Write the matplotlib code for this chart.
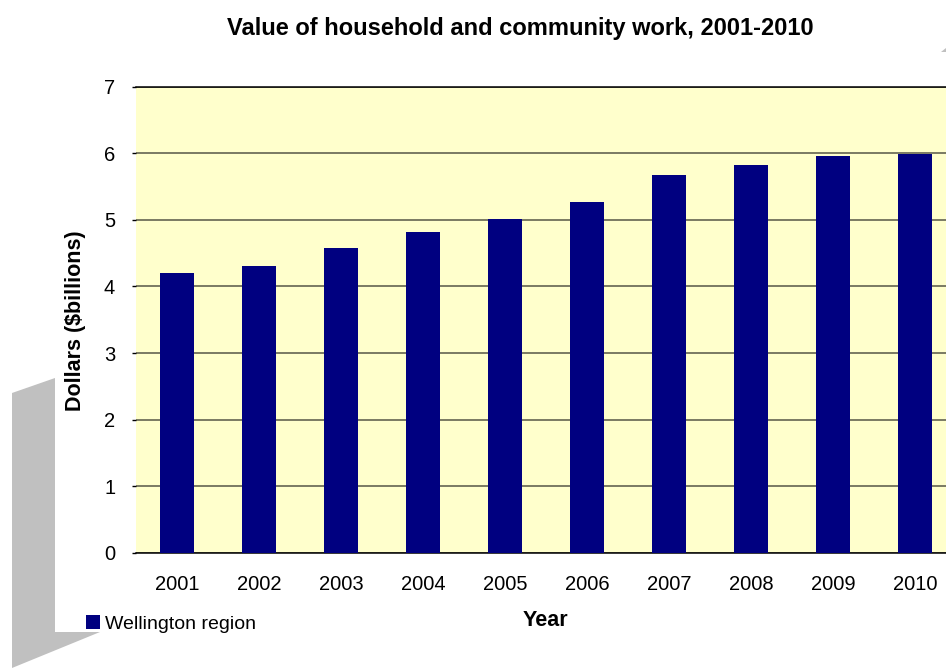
import matplotlib
matplotlib.use('Agg')
import matplotlib.pyplot as plt
from matplotlib.patches import Polygon, Patch

# Household and community work, Wellington region ($billions)
years = ['2001', '2002', '2003', '2004', '2005', '2006', '2007', '2008', '2009', '2010']
values = [4.20, 4.30, 4.57, 4.81, 5.01, 5.26, 5.67, 5.82, 5.95, 5.98]
yticks = [0, 1, 2, 3, 4, 5, 6, 7]

plt.rcParams['font.family'] = ['Liberation Sans', 'DejaVu Sans']

W, H = 946, 669
fig = plt.figure(figsize=(W / 100, H / 100), dpi=100)

# grey page-curl shapes behind the chart
def px(pts):
    return [(x / W, 1 - y / H) for x, y in pts]

fig.patches.append(Polygon(px([(12, 393), (55, 378), (55, 632), (100, 632), (12, 668)]),
                           closed=True, transform=fig.transFigure, facecolor='#c0c0c0',
                           edgecolor='none', zorder=0))
fig.patches.append(Polygon(px([(941, 52), (946, 48), (946, 52)]),
                           closed=True, transform=fig.transFigure, facecolor='#c0c0c0',
                           edgecolor='none', zorder=0))

left, right = 136, 956
top, bottom = 86.5, 553
ax = fig.add_axes([left / W, 1 - bottom / H, (right - left) / W, (bottom - top) / H])
ax.set_facecolor('#ffffcc')

x = list(range(len(years)))
ax.bar(x, values, width=0.415, color='#000080', zorder=3)

ax.set_xlim(-0.5, 9.5)
ax.set_ylim(0, 7)
ax.set_yticks(yticks)
ax.set_xticks(x)
ax.set_xticklabels(years)
ax.yaxis.grid(True, color='#70705a', linewidth=1.3, zorder=1)
ax.set_axisbelow(True)

for s in ['left', 'right']:
    ax.spines[s].set_visible(False)
ax.spines['top'].set_color('black')
ax.spines['bottom'].set_color('black')
ax.spines['top'].set_linewidth(1.1)
ax.spines['bottom'].set_linewidth(1.1)

ax.tick_params(axis='y', length=3, width=1, pad=12, labelsize=14.5)
ax.tick_params(axis='x', length=0, pad=16, labelsize=14.5)

fig.text(520 / W, 1 - 28 / H, 'Value of household and community work, 2001-2010',
         ha='center', va='center', fontsize=17, fontweight='bold')
fig.text(76 / W, 1 - 321 / H, 'Dollars ($billions)', rotation=90,
         ha='center', va='center', fontsize=15.5, fontweight='bold')
fig.text(545 / W, 1 - 620 / H, 'Year', ha='center', va='center',
         fontsize=15.5, fontweight='bold')

fig.legend(handles=[Patch(facecolor='#000080', label='Wellington region')],
           loc='center left', bbox_to_anchor=(86 / W, 1 - 624 / H), frameon=False,
           fontsize=14, handlelength=0.72, handleheight=0.72, handletextpad=0.25,
           borderpad=0, borderaxespad=0)

fig.savefig('out.png', dpi=100)
